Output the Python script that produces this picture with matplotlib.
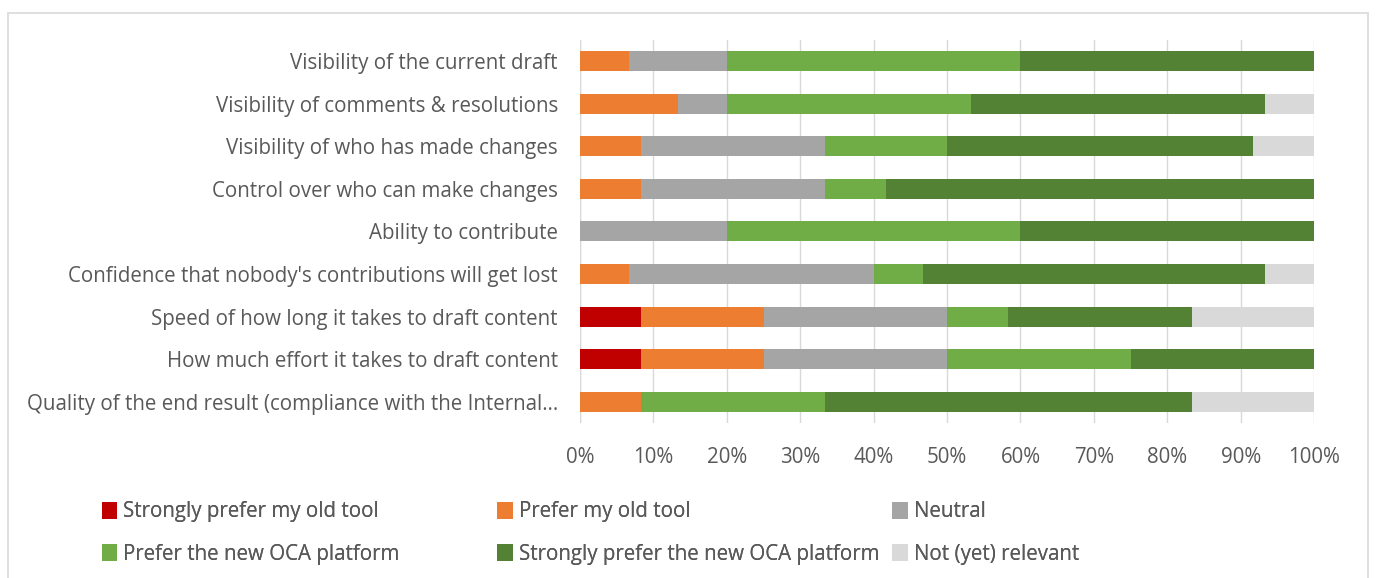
import numpy as np
import matplotlib.pyplot as plt
from matplotlib.patches import Rectangle

plt.rcParams['font.family'] = ['Open Sans', 'DejaVu Sans']

categories = [
    'Visibility of the current draft',
    'Visibility of comments & resolutions',
    'Visibility of who has made changes',
    'Control over who can make changes',
    'Ability to contribute',
    "Confidence that nobody's contributions will get lost",
    'Speed of how long it takes to draft content',
    'How much effort it takes to draft content',
    'Quality of the end result (compliance with the Internal\u2026',
]

series_names = [
    'Strongly prefer my old tool',
    'Prefer my old tool',
    'Neutral',
    'Prefer the new OCA platform',
    'Strongly prefer the new OCA platform',
    'Not (yet) relevant',
]

# percentages per category, one list per series
strongly_old = [0, 0, 0, 0, 0, 0, 8.33, 8.33, 0]
prefer_old = [6.67, 13.33, 8.33, 8.33, 0, 6.67, 16.67, 16.67, 8.33]
neutral = [13.33, 6.67, 25.0, 25.0, 20.0, 33.33, 25.0, 25.0, 0]
prefer_new = [40.0, 33.33, 16.67, 8.33, 40.0, 6.67, 8.33, 25.0, 25.0]
strongly_new = [40.0, 40.0, 41.67, 58.33, 40.0, 46.67, 25.0, 25.0, 50.0]
not_relevant = [0, 6.67, 8.33, 0, 0, 6.67, 16.67, 0, 16.67]

colors = ['#C00000', '#ED7D31', '#A5A5A5', '#70AD47', '#548235', '#D9D9D9']
text_col = '#595959'
fs = 14.8

fig = plt.figure(figsize=(13.76, 5.78), dpi=100)
ax = fig.add_axes([0.4215, 0.268, 0.5335, 0.663])

# outer chart border
fig.patches.append(Rectangle((0.006, -0.01), 0.988, 0.988, transform=fig.transFigure,
                             fill=False, edgecolor='#D9D9D9', linewidth=1.2))

y = np.arange(len(categories))
left = np.zeros(len(categories))
all_series = [strongly_old, prefer_old, neutral, prefer_new, strongly_new, not_relevant]
handles = []
for name, vals, c in zip(series_names, all_series, colors):
    vals = np.array(vals)
    h = ax.barh(y, vals, left=left, height=0.47, color=c, label=name, zorder=3)
    handles.append(h)
    left += vals

ax.set_xlim(0, 100)
ax.set_ylim(len(categories) - 0.5, -0.5)
ax.set_xticks(np.arange(0, 101, 10))
ax.set_xticklabels([f'{v}%' for v in range(0, 101, 10)])
ax.set_yticks(y)
ax.set_yticklabels(categories)
ax.xaxis.grid(True, color='#D9D9D9', linewidth=1, zorder=0)
ax.tick_params(axis='both', length=0, labelsize=fs, colors=text_col)
ax.tick_params(axis='x', pad=17)
ax.tick_params(axis='y', pad=16)
for s in ax.spines.values():
    s.set_visible(False)
ax.axvline(0, color='#D9D9D9', linewidth=1, zorder=1)

# legend: three fixed-width columns, rows filled left to right
col_x = [0.074, 0.3615, 0.6485]
for i, cx in enumerate(col_x):
    hs = [handles[i], handles[i + 3]]
    labs = [series_names[i], series_names[i + 3]]
    leg = fig.legend(hs, labs, loc='upper left', bbox_to_anchor=(cx, 0.1325), ncol=1,
                     frameon=False, fontsize=fs, labelcolor=text_col, handlelength=0.75,
                     handleheight=0.9, handletextpad=0.3, labelspacing=1.04,
                     borderaxespad=0, borderpad=0)
    fig.add_artist(leg)

fig.savefig('out.png', dpi=100)
